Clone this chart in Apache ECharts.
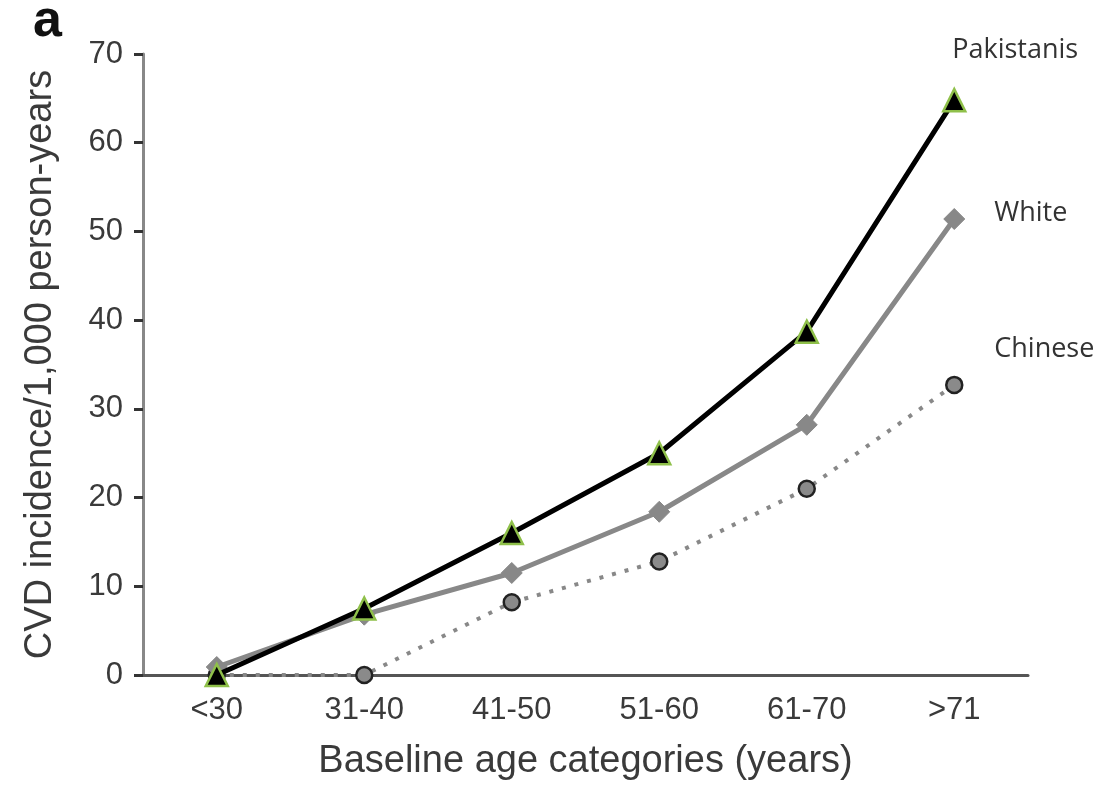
<!DOCTYPE html>
<html><head><meta charset="utf-8">
<script src="https://cdn.jsdelivr.net/npm/echarts@6/dist/echarts.min.js"></script>
<style>html,body{margin:0;padding:0;background:#fff}#c{width:1109px;height:786px}</style>
</head><body><div id="c"></div>
<script>
const categories = ['<30', '31-40', '41-50', '51-60', '61-70', '>71'];
const pakistanis = [0, 7.5, 16.0, 25.0, 38.7, 64.8];
const white = [0.9, 6.8, 11.5, 18.4, 28.2, 51.4];
const chinese = [0, 0, 8.2, 12.8, 21.0, 32.7];
const yTicks = [0, 10, 20, 30, 40, 50, 60, 70];

const chart = echarts.init(document.getElementById('c'));
const axisFont = {fontFamily: 'Liberation Sans', fontSize: 31, color: '#3a3a3a'};
const labelFont = {fontFamily: 'Open Sans', fontSize: 27, color: '#333'};
chart.setOption({
  animation: false,
  backgroundColor: '#fff',
  title: {text: 'a', left: 28, top: -9, textStyle: {fontFamily: 'Liberation Sans', fontWeight: 'bold', fontSize: 52, color: '#111'}},
  grid: {left: 143, right: 81, top: 54, bottom: 110, containLabel: false},
  xAxis: {
    type: 'category', data: categories, boundaryGap: true,
    axisLine: {lineStyle: {color: '#555', width: 3}},
    axisTick: {show: false},
    axisLabel: Object.assign({margin: 20}, axisFont),
    name: 'Baseline age categories (years)', nameLocation: 'middle', nameGap: 68,
    nameTextStyle: {fontFamily: 'Liberation Sans', fontSize: 38, color: '#3a3a3a'}
  },
  yAxis: {
    type: 'value', min: 0, max: 70, interval: 10,
    axisLine: {show: true, lineStyle: {color: '#888', width: 3}},
    axisTick: {show: true, length: 9, lineStyle: {color: '#333', width: 3}},
    splitLine: {show: false},
    axisLabel: Object.assign({margin: 20, formatter: v => yTicks.includes(v) ? String(v) : ''}, axisFont),
    name: 'CVD incidence/1,000 person-years', nameLocation: 'middle', nameGap: 83,
    nameTextStyle: {fontFamily: 'Liberation Sans', fontSize: 38, color: '#3a3a3a'}
  },
  series: [
    {
      name: 'Chinese', type: 'line', data: chinese, z: 2,
      lineStyle: {color: '#888', width: 4, type: [4, 9], cap: 'butt'},
      symbol: 'circle', symbolSize: 16,
      itemStyle: {color: '#8a8a8a', borderColor: '#222', borderWidth: 2.5},
      endLabel: Object.assign({show: true, formatter: '{a}', offset: [32, -36]}, labelFont)
    },
    {
      name: 'White', type: 'line', data: white, z: 3,
      lineStyle: {color: '#888', width: 5},
      symbol: 'diamond', symbolSize: 21,
      itemStyle: {color: '#888', borderColor: '#888', borderWidth: 1},
      endLabel: Object.assign({show: true, formatter: '{a}', offset: [32, -6]}, labelFont)
    },
    {
      name: 'Pakistanis', type: 'line', data: pakistanis, z: 4,
      lineStyle: {color: '#000', width: 5},
      symbol: 'triangle', symbolSize: 22,
      itemStyle: {color: '#000', borderColor: '#8fc04a', borderWidth: 2.5},
      endLabel: Object.assign({show: true, formatter: '{a}', offset: [-10, -50]}, labelFont)
    }
  ]
});
</script></body></html>
